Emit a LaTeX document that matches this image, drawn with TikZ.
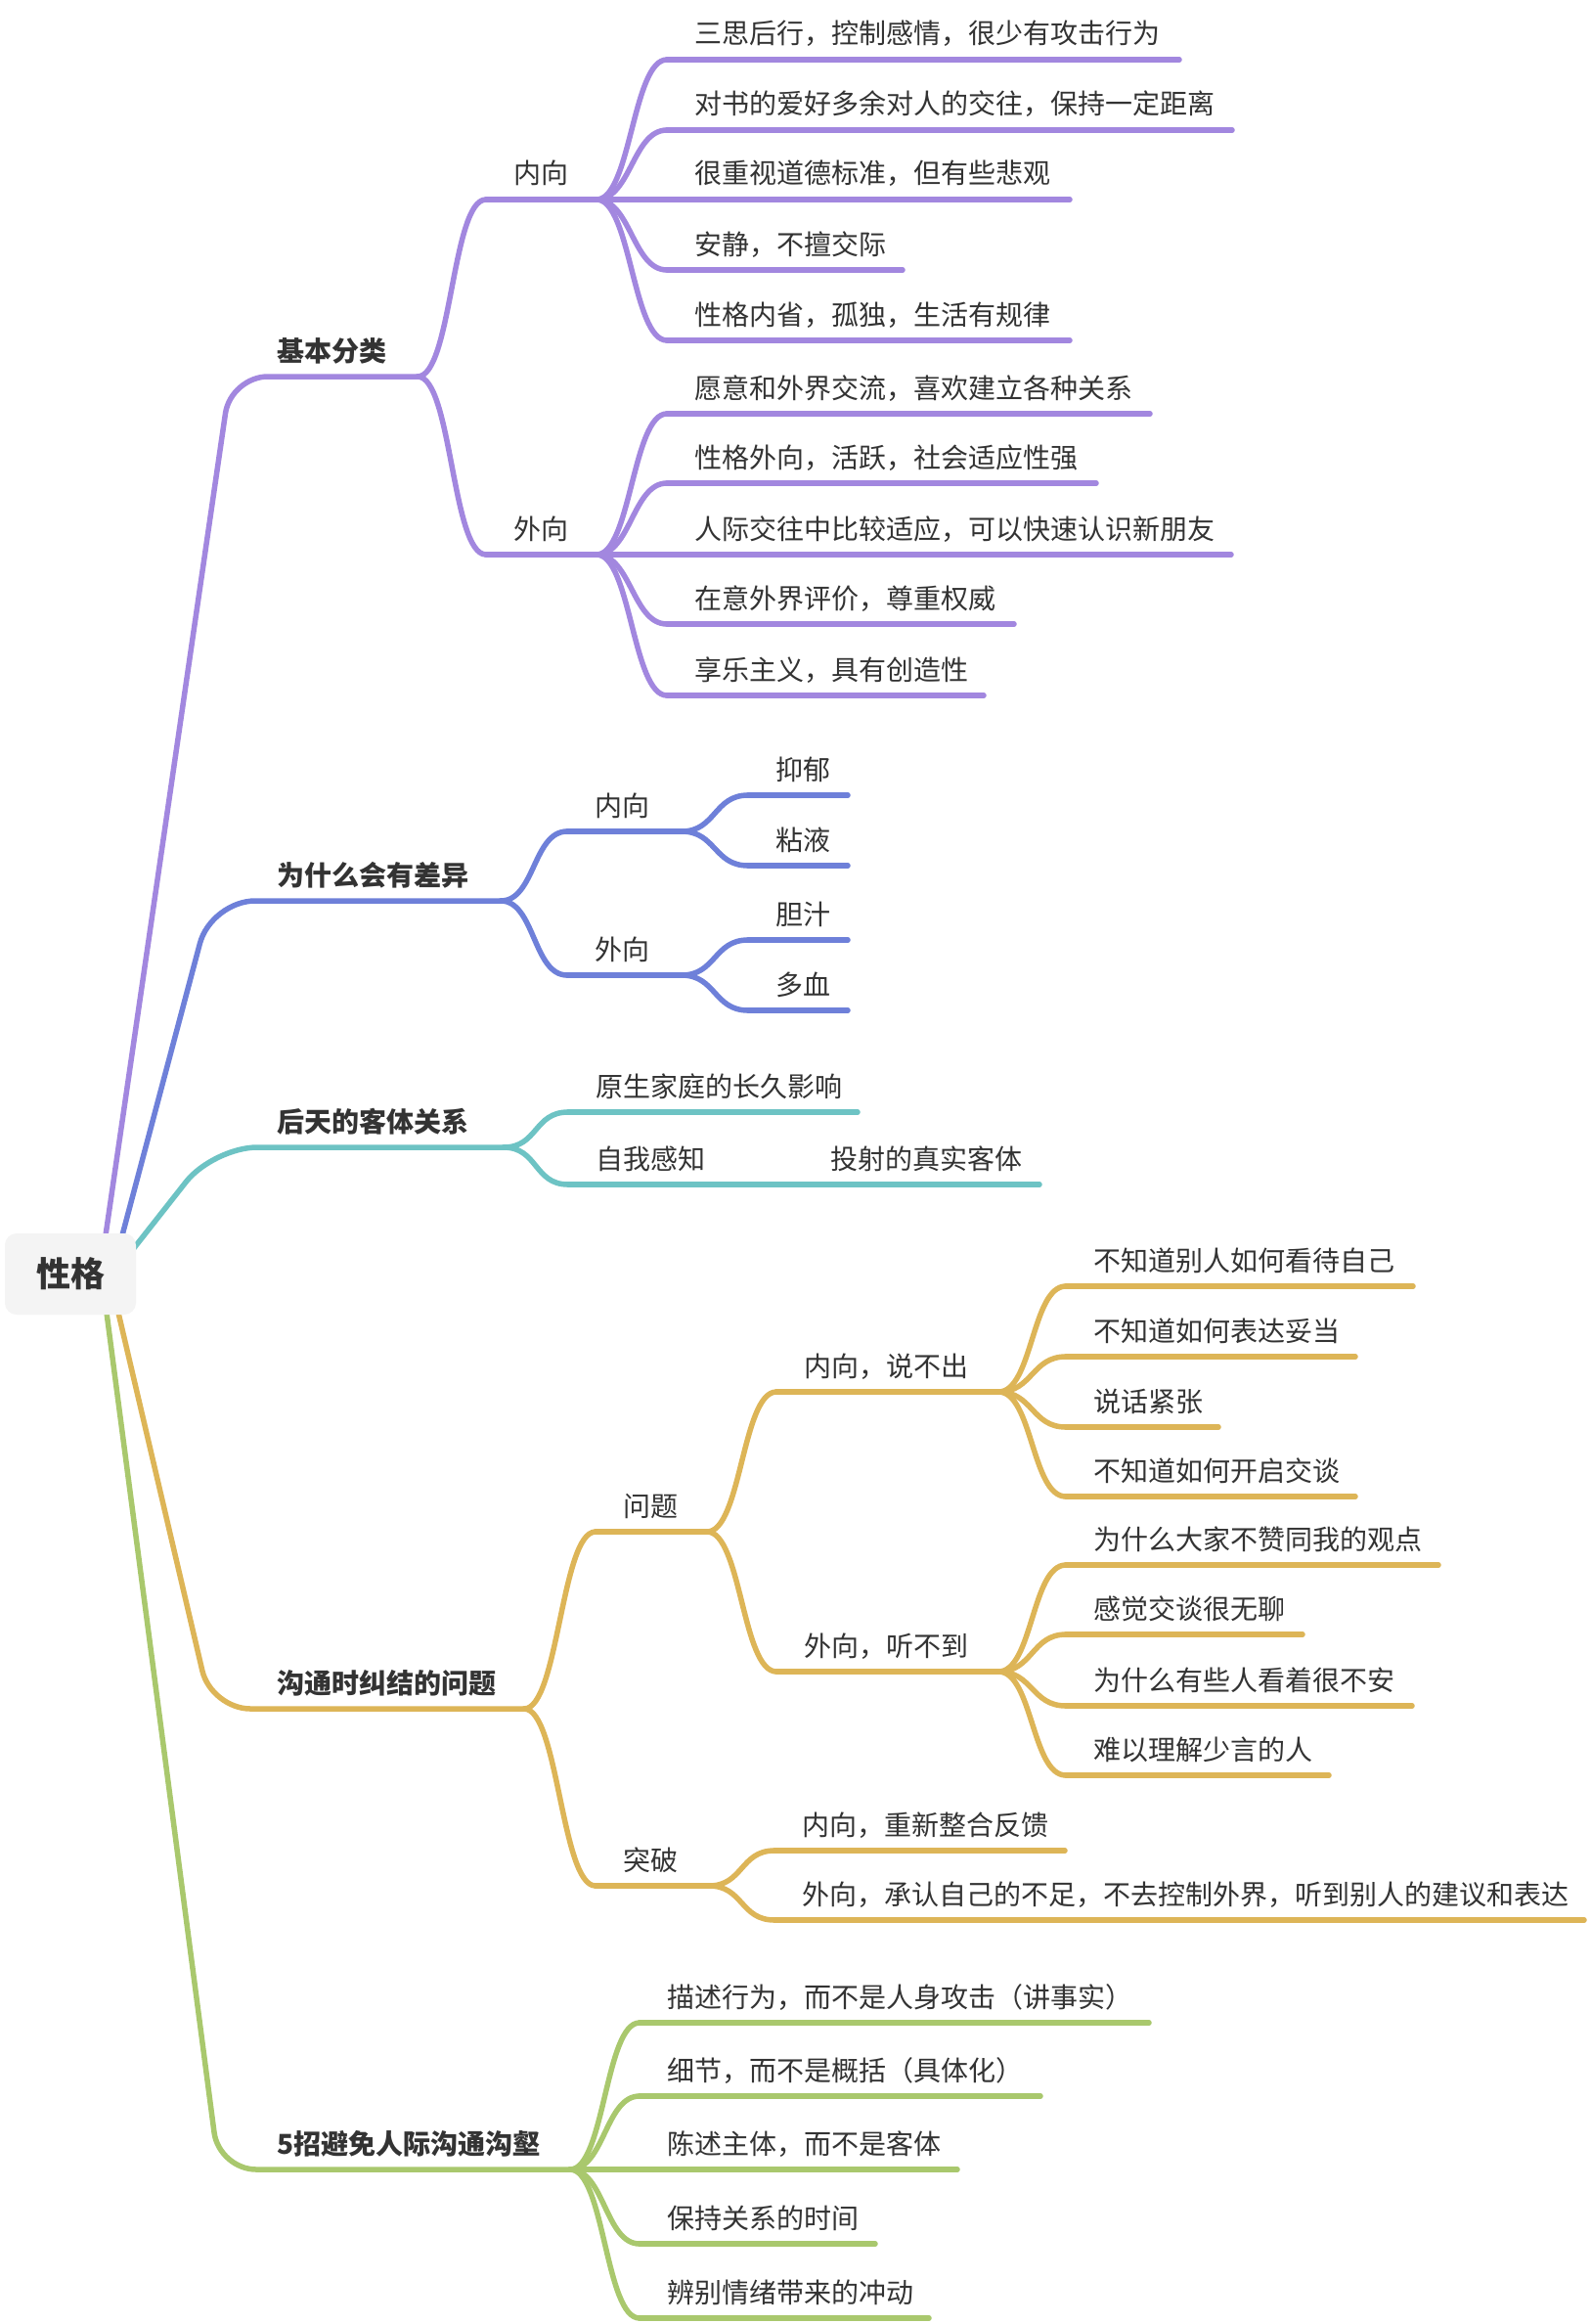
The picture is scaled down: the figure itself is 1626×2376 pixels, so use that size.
\documentclass[tikz,border=0pt]{standalone}
\usepackage{fontspec}
\newfontfamily\cjk{Noto Sans CJK SC}
\definecolor{cA}{HTML}{A287DF}
\definecolor{cB}{HTML}{6E80D9}
\definecolor{cC}{HTML}{6DC3C4}
\definecolor{cD}{HTML}{DDB557}
\definecolor{cE}{HTML}{A9C86D}
\definecolor{txt}{HTML}{333333}
\definecolor{rootbg}{HTML}{F4F4F4}
% #1 style, #2 name, #3 colour, #4 text x, #5 line y, #6 line end x, #7 text
\newcommand\tpc[7][lab]{%
  \node[#1] (#2) at (#4,#5-16) {#7};
  \coordinate (#2-l) at (#4-28,#5);
  \coordinate (#2-r) at (#6,#5);
  \draw[br,#3] (#2-l) -- (#2-r);
}
% first-level topic: its underline is drawn together with the connector from the root
\newcommand\tpcmain[5]{%
  \node[labb] (#1) at (#3,#4-16) {#5};
  \coordinate (#1-r) at (#2,#4);
}
\newcommand\con[3]{\draw[br,#1] (#2-r) .. controls +(35,0) and +(-35,0) .. (#3-l);}
\begin{document}
\begin{tikzpicture}[x=1pt,y=-1pt,
  lab/.style={anchor=base west, inner sep=0pt, text=txt, font=\cjk\fontsize{28}{34}\selectfont},
  labb/.style={lab, font=\cjk\bfseries\fontsize{28}{34}\selectfont},
  br/.style={line width=5.5pt, line cap=round, line join=round},
  rootbox/.style={fill=rootbg, rounded corners=12pt, minimum width=134pt, minimum height=83pt, inner sep=0pt, text=txt, font=\cjk\bfseries\fontsize{35}{40}\selectfont}]
\fill[white] (0,0) rectangle (1626,2376);
\useasboundingbox (0,0) rectangle (1626,2376);

% ---------- 基本分类 ----------
\tpcmain{A}{427}{283}{385}{基本分类}
\tpc{A1}{cA}{525}{204}{610}{内向}
\tpc{A2}{cA}{525}{567}{610}{外向}
\tpc{A1a}{cA}{710}{61}{1206}{三思后行，控制感情，很少有攻击行为}
\tpc{A1b}{cA}{710}{133}{1260}{对书的爱好多余对人的交往，保持一定距离}
\tpc{A1c}{cA}{710}{204}{1094}{很重视道德标准，但有些悲观}
\tpc{A1d}{cA}{710}{276}{923}{安静，不擅交际}
\tpc{A1e}{cA}{710}{348}{1094}{性格内省，孤独，生活有规律}
\tpc{A2a}{cA}{710}{423}{1176}{愿意和外界交流，喜欢建立各种关系}
\tpc{A2b}{cA}{710}{494}{1121}{性格外向，活跃，社会适应性强}
\tpc{A2c}{cA}{710}{567}{1259}{人际交往中比较适应，可以快速认识新朋友}
\tpc{A2d}{cA}{710}{638}{1037}{在意外界评价，尊重权威}
\tpc{A2e}{cA}{710}{711}{1006}{享乐主义，具有创造性}
\con{cA}{A}{A1}\con{cA}{A}{A2}
\con{cA}{A1}{A1a}\con{cA}{A1}{A1b}\con{cA}{A1}{A1c}\con{cA}{A1}{A1d}\con{cA}{A1}{A1e}
\con{cA}{A2}{A2a}\con{cA}{A2}{A2b}\con{cA}{A2}{A2c}\con{cA}{A2}{A2d}\con{cA}{A2}{A2e}

% ---------- 为什么会有差异 ----------
\tpcmain{B}{512}{283}{921}{为什么会有差异}
\tpc{B1}{cB}{608}{850}{697}{内向}
\tpc{B2}{cB}{608}{997}{697}{外向}
\tpc{B1a}{cB}{793}{813}{867}{抑郁}
\tpc{B1b}{cB}{793}{885}{867}{粘液}
\tpc{B2a}{cB}{793}{961}{867}{胆汁}
\tpc{B2b}{cB}{793}{1033}{867}{多血}
\con{cB}{B}{B1}\con{cB}{B}{B2}
\con{cB}{B1}{B1a}\con{cB}{B1}{B1b}\con{cB}{B2}{B2a}\con{cB}{B2}{B2b}

% ---------- 后天的客体关系 ----------
\tpcmain{C}{515}{283}{1173}{后天的客体关系}
\tpc{C1}{cC}{609}{1137}{877}{原生家庭的长久影响}
\tpc{C2}{cC}{609}{1211}{751}{自我感知}
\tpc{C3}{cC}{849}{1211}{1063}{投射的真实客体}
\con{cC}{C}{C1}\con{cC}{C}{C2}
\draw[br,cC] (C2-r) -- (C3-l);

% ---------- 沟通时纠结的问题 ----------
\tpcmain{D}{536}{283}{1747}{沟通时纠结的问题}
\tpc{D1}{cD}{637}{1566}{723}{问题}
\tpc{D2}{cD}{637}{1928}{725}{突破}
\tpc{D1a}{cD}{822}{1423}{1021}{内向，说不出}
\tpc{D1b}{cD}{822}{1709}{1021}{外向，听不到}
\tpc{D1a1}{cD}{1118}{1315}{1445}{不知道别人如何看待自己}
\tpc{D1a2}{cD}{1118}{1387}{1386}{不知道如何表达妥当}
\tpc{D1a3}{cD}{1118}{1459}{1246}{说话紧张}
\tpc{D1a4}{cD}{1118}{1530}{1386}{不知道如何开启交谈}
\tpc{D1b1}{cD}{1118}{1600}{1471}{为什么大家不赞同我的观点}
\tpc{D1b2}{cD}{1118}{1671}{1332}{感觉交谈很无聊}
\tpc{D1b3}{cD}{1118}{1744}{1444}{为什么有些人看着很不安}
\tpc{D1b4}{cD}{1118}{1815}{1359}{难以理解少言的人}
\tpc{D2a}{cD}{820}{1892}{1089}{内向，重新整合反馈}
\tpc{D2b}{cD}{820}{1963}{1620}{外向，承认自己的不足，不去控制外界，听到别人的建议和表达}
\con{cD}{D}{D1}\con{cD}{D}{D2}
\con{cD}{D1}{D1a}\con{cD}{D1}{D1b}
\con{cD}{D1a}{D1a1}\con{cD}{D1a}{D1a2}\con{cD}{D1a}{D1a3}\con{cD}{D1a}{D1a4}
\con{cD}{D1b}{D1b1}\con{cD}{D1b}{D1b2}\con{cD}{D1b}{D1b3}\con{cD}{D1b}{D1b4}
\con{cD}{D2}{D2a}\con{cD}{D2}{D2b}

% ---------- 5招避免人际沟通沟壑 ----------
\tpcmain{E}{583}{283}{2218}{5招避免人际沟通沟壑}
\tpc{E1}{cE}{682}{2068}{1175}{描述行为，而不是人身攻击（讲事实）}
\tpc{E2}{cE}{682}{2143}{1064}{细节，而不是概括（具体化）}
\tpc{E3}{cE}{682}{2218}{979}{陈述主体，而不是客体}
\tpc{E4}{cE}{682}{2294}{895}{保持关系的时间}
\tpc{E5}{cE}{682}{2370}{950}{辨别情绪带来的冲动}
\con{cE}{E}{E1}\con{cE}{E}{E2}\con{cE}{E}{E3}\con{cE}{E}{E4}\con{cE}{E}{E5}

% ---------- root ----------
\coordinate (ra) at (108,1263);
\coordinate (rb) at (125,1263);
\coordinate (rc) at (137,1276);
\coordinate (rd) at (121,1342);
\coordinate (re) at (109,1342);
\draw[br,cA,rounded corners=38pt] (ra) -- (236,385) -- (A-r);
\draw[br,cB,rounded corners=45pt] (rb) -- (216,921) -- (B-r);
\draw[br,cC,rounded corners=45pt] (rc) -- (218,1173) -- (C-r);
\draw[br,cD,rounded corners=40pt] (rd) -- (216,1747) -- (D-r);
\draw[br,cE,rounded corners=38pt] (re) -- (224,2218) -- (E-r);
\node[rootbox] (root) at (72,1302.5) {性格};
\end{tikzpicture}
\end{document}
